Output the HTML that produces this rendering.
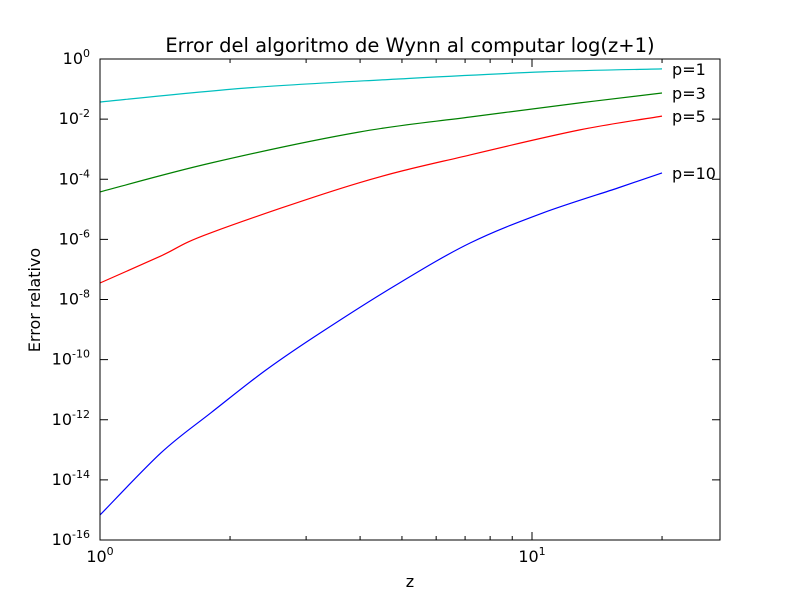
<!DOCTYPE html>
<html><head><meta charset="utf-8"><style>body{margin:0;background:#fff}svg{display:block;font-family:"DejaVu Sans","Liberation Sans",sans-serif}</style></head>
<body>
<svg id="chart" width="800" height="600" viewBox="0 0 800 600">
<rect width="800" height="600" fill="#fff"/>
<text x="410" y="52" font-size="19.5" text-anchor="middle">Error del algoritmo de Wynn al computar log(z+1)</text>
<text x="410" y="587" font-size="16" text-anchor="middle">z</text>
<text transform="translate(40,300) rotate(-90)" font-size="16" text-anchor="middle">Error relativo</text>
<g id="marks"></g>
<rect x="100" y="59" width="620" height="481" fill="none" stroke="#000" stroke-width="1"/>
</svg>
<script>
const seriesNames = ["p=1", "p=3", "p=5", "p=10"];
const seriesColors = ["#00bfbf", "#008000", "#ff0000", "#0000ff"];
const zP1 = [1, 2.2, 4.84, 10.6, 20];
const logErrP1 = [-1.43, -0.96, -0.67, -0.43, -0.33];
const zP3 = [1, 1.806, 3.97, 7.19, 12.9, 20];
const logErrP3 = [-4.42, -3.46, -2.43, -1.93, -1.46, -1.13];
const zP5 = [1, 1.384, 1.806, 3.97, 7.19, 12.9, 20];
const logErrP5 = [-7.45, -6.55, -5.78, -4.12, -3.19, -2.36, -1.90];
const zP10 = [1, 1.384, 1.806, 2.42, 3.26, 4.84, 7.19, 10.6, 15.8, 20];
const logErrP10 = [-15.17, -13.10, -11.77, -10.35, -9.08, -7.52, -6.12, -5.12, -4.29, -3.79];
const yTickExps = [0, -2, -4, -6, -8, -10, -12, -14, -16];
const xTickExps = [0, 1];

const L=100,R=720,T=59,B=540;
const xMaxLog=(R-L)/432;
function xs(z){return L+Math.log10(z)/xMaxLog*(R-L);}
function ys(le){return T+(0-le)/16*(B-T);}
const NS="http://www.w3.org/2000/svg";
const g=document.getElementById('marks');
function mk(tag,at){const e=document.createElementNS(NS,tag);for(const k in at)e.setAttribute(k,at[k]);g.appendChild(e);return e;}
function tickLabel(x,y,exp,anchor){
  const t=mk('text',{x:x,y:y,'font-size':16,'text-anchor':anchor});
  
  
  t.textContent='10';
  const s=document.createElementNS(NS,'tspan');s.setAttribute('dy','-7');s.setAttribute('font-size','11');s.textContent=exp;t.appendChild(s);
}
yTickExps.forEach(e=>{
  const y=ys(e);
  [[L,L+8],[R,R-8]].forEach(p=>{const l=mk('line',{x1:p[0],x2:p[1],y1:y,y2:y,stroke:'#000'});});
  tickLabel(L-10,y+5,e,'end');
});
xTickExps.forEach(e=>{
  const x=xs(Math.pow(10,e));
  [[B,B-8],[T,T+8]].forEach(p=>{const l=mk('line',{x1:x,x2:x,y1:p[0],y2:p[1],stroke:'#000'});});
  tickLabel(x,B+22,e,'middle');
});
[2,3,4,5,6,7,8,9,20].forEach(v=>{
  const x=xs(v);
  [[B,B-4],[T,T+4]].forEach(p=>{const l=mk('line',{x1:x,x2:x,y1:p[0],y2:p[1],stroke:'#000'});});
});
function smoothPath(pts){
  let d='M'+pts[0][0].toFixed(1)+','+pts[0][1].toFixed(1);
  for(let i=0;i<pts.length-1;i++){
    const p0=pts[i-1]||pts[i],p1=pts[i],p2=pts[i+1],p3=pts[i+2]||p2;
    const c1=[p1[0]+(p2[0]-p0[0])/6,p1[1]+(p2[1]-p0[1])/6];
    const c2=[p2[0]-(p3[0]-p1[0])/6,p2[1]-(p3[1]-p1[1])/6];
    d+=' C'+c1.map(v=>v.toFixed(1)).join(',')+' '+c2.map(v=>v.toFixed(1)).join(',')+' '+p2.map(v=>v.toFixed(1)).join(',');
  }
  return d;
}
const zs=[zP1,zP3,zP5,zP10];
[logErrP1,logErrP3,logErrP5,logErrP10].forEach((arr,i)=>{
  const pts=arr.map((v,j)=>[xs(zs[i][j]),ys(v)]);
  const p=mk('path',{d:smoothPath(pts),fill:'none',stroke:seriesColors[i],'stroke-width':1.2});
  
  
  const last=arr.length-1;
  const t=mk('text',{x:xs(zs[i][last])+10,y:ys(arr[last])+6,'font-size':16});
  
  
  t.textContent=seriesNames[i];
});
</script>
</body></html>
